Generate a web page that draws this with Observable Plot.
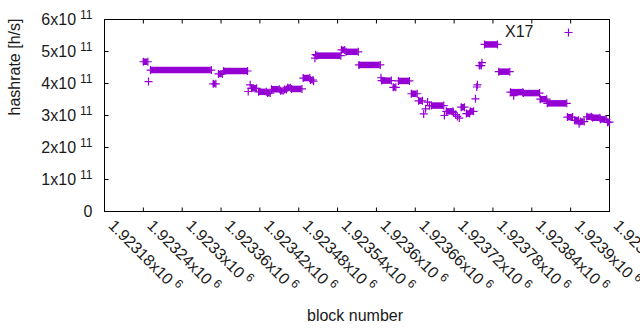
<!DOCTYPE html>
<html>
<head>
<meta charset="utf-8">
<script src="https://cdn.jsdelivr.net/npm/d3@7"></script>
<script src="https://cdn.jsdelivr.net/npm/@observablehq/plot@0.6"></script>
<style>
  html, body { margin: 0; padding: 0; background: #fff; }
  #chart { width: 640px; height: 330px; }
</style>
</head>
<body>
<div id="chart"></div>
<script>
// ---- data ----
const seriesName = "X17";
const xTitle = "block number";
const yTitle = "hashrate [h/s]";

const xTicks = [1923180, 1923240, 1923300, 1923360, 1923420, 1923480, 1923540,
                1923600, 1923660, 1923720, 1923780, 1923840, 1923900, 1923960];
const xTickMantissa = ["1.92318", "1.92324", "1.9233", "1.92336", "1.92342", "1.92348", "1.92354",
                       "1.9236", "1.92366", "1.92372", "1.92378", "1.92384", "1.9239", "1.92396"];
const xTickExponent = "6";

const yTicks = [0, 1e11, 2e11, 3e11, 4e11, 5e11, 6e11];
const yTickMantissa = ["0", "1", "2", "3", "4", "5", "6"];
const yTickExponent = "11";

// runs of consecutive blocks with the same hashrate (x 1e11 h/s)
const runStart = [1923240, 1923248, 1923251, 1923348, 1923356, 1923364, 1923402, 1923405, 1923407, 1923418,
                  1923432, 1923438, 1923452, 1923458, 1923463, 1923469, 1923487, 1923498, 1923503, 1923505,
                  1923506, 1923508, 1923546, 1923553, 1923573, 1923607, 1923608, 1923626, 1923634, 1923654,
                  1923665, 1923673, 1923676, 1923679, 1923682, 1923685, 1923705, 1923708, 1923719, 1923722,
                  1923725, 1923728, 1923731, 1923739, 1923745, 1923753, 1923755, 1923756, 1923759, 1923763,
                  1923767, 1923789, 1923807, 1923812, 1923827, 1923853, 1923864, 1923895, 1923906, 1923913,
                  1923915, 1923925, 1923934, 1923946, 1923957];
const runEnd   = [1923247, 1923248, 1923345, 1923352, 1923362, 1923401, 1923402, 1923405, 1923415, 1923430,
                  1923436, 1923450, 1923456, 1923461, 1923467, 1923485, 1923497, 1923502, 1923503, 1923505,
                  1923506, 1923545, 1923551, 1923572, 1923606, 1923607, 1923623, 1923630, 1923651, 1923663,
                  1923671, 1923673, 1923676, 1923679, 1923682, 1923704, 1923705, 1923718, 1923719, 1923722,
                  1923725, 1923728, 1923736, 1923744, 1923750, 1923753, 1923755, 1923756, 1923762, 1923763,
                  1923787, 1923806, 1923826, 1923812, 1923852, 1923863, 1923894, 1923903, 1923912, 1923913,
                  1923921, 1923932, 1923945, 1923955, 1923960];
const runRate  = [4.68, 4.06, 4.42, 3.99, 4.30, 4.39, 3.75, 3.96, 3.85, 3.74,
                  3.70, 3.82, 3.77, 3.81, 3.87, 3.83, 4.17, 4.11, 4.07, 4.79,
                  4.90, 4.87, 5.05, 4.99, 4.58, 4.18, 4.09, 3.88, 4.08, 3.68,
                  3.46, 3.05, 3.21, 3.42, 3.31, 3.31, 3.00, 3.13, 3.09, 3.03,
                  2.97, 2.92, 3.26, 3.06, 3.13, 3.52, 3.89, 3.96, 4.56, 4.65,
                  5.22, 4.37, 3.73, 3.62, 3.70, 3.51, 3.38, 2.95, 2.85, 2.74,
                  2.81, 2.96, 2.93, 2.88, 2.79];

// ---- build tables ----
const runs = runStart.map((s, i) => ({start: s, end: runEnd[i], rate: runRate[i] * 1e11}));
const runPoints = runs.flatMap(r => r.start === r.end
  ? [{block: r.start, rate: r.rate}]
  : [{block: r.start, rate: r.rate}, {block: r.end, rate: r.rate}]);

const purple = "#9400d3";
const font = "'Liberation Sans', Arial, Helvetica, sans-serif";

const plusSym = {draw(c) { c.moveTo(-4, 0); c.lineTo(4, 0); c.moveTo(0, -4); c.lineTo(0, 4); }};
const tickUp = {draw(c) { c.moveTo(0, 0); c.lineTo(0, -4); }};
const tickDown = {draw(c) { c.moveTo(0, 0); c.lineTo(0, 4); }};
const tickRight = {draw(c) { c.moveTo(0, 0); c.lineTo(4, 0); }};
const tickLeft = {draw(c) { c.moveTo(0, 0); c.lineTo(-4, 0); }};

const xLabel = (d, i) => `${xTickMantissa[i]}x10^${xTickExponent}`;
const yLabel = (d, i) => i === 0 ? yTickMantissa[i] : `${yTickMantissa[i]}x10^${yTickExponent}`;

const chart = Plot.plot({
  width: 640,
  height: 330,
  marginLeft: 104,
  marginRight: 31,
  marginTop: 19,
  marginBottom: 119,
  x: {domain: [xTicks[0], xTicks[xTicks.length - 1]], axis: null},
  y: {domain: [yTicks[0], yTicks[yTicks.length - 1]], axis: null},
  style: {fontFamily: font, fontSize: "16px", background: "white", color: "black"},
  marks: [
    // inward ticks on all four sides
    Plot.dot(xTicks, {x: d => d, frameAnchor: "bottom", symbol: tickUp, stroke: "black", fill: "none", strokeWidth: 1}),
    Plot.dot(xTicks, {x: d => d, frameAnchor: "top", symbol: tickDown, stroke: "black", fill: "none", strokeWidth: 1}),
    Plot.dot(yTicks, {y: d => d, frameAnchor: "left", symbol: tickRight, stroke: "black", fill: "none", strokeWidth: 1}),
    Plot.dot(yTicks, {y: d => d, frameAnchor: "right", symbol: tickLeft, stroke: "black", fill: "none", strokeWidth: 1}),
    Plot.frame({stroke: "black", strokeWidth: 1}),
    // tick labels
    Plot.text(yTicks, {y: d => d, frameAnchor: "left", dx: -12, textAnchor: "end", lineAnchor: "middle", text: yLabel, fontSize: 16, fill: "#1a1a1a"}),
    Plot.text(xTicks, {x: d => d, frameAnchor: "bottom", dx: 3, dy: 15, rotate: 45, textAnchor: "start", lineAnchor: "bottom", text: xLabel, fontSize: 16, fill: "#1a1a1a"}),
    // axis titles
    Plot.text([xTitle], {frameAnchor: "bottom", dx: -2, dy: 104, lineAnchor: "middle", text: d => d, fontSize: 16, fill: "#1a1a1a"}),
    Plot.text([yTitle], {frameAnchor: "left", dx: -89.4, rotate: -90, lineAnchor: "middle", text: d => d, fontSize: 16, fill: "#1a1a1a"}),
    // data
    Plot.ruleY(runs, {x1: "start", x2: "end", y: "rate", stroke: purple, strokeWidth: 6.5}),
    Plot.dot(runPoints, {x: "block", y: "rate", symbol: plusSym, stroke: purple, fill: "none", strokeWidth: 1.2}),
    // key
    Plot.text([seriesName], {frameAnchor: "top-right", dx: -76, dy: 12, textAnchor: "end", lineAnchor: "middle", text: d => d, fontSize: 16, fill: "#1a1a1a"}),
    Plot.dot([seriesName], {frameAnchor: "top-right", dx: -41, dy: 13, symbol: plusSym, stroke: purple, fill: "none", strokeWidth: 1.2})
  ]
});

// superscript exponents
d3.select(chart).selectAll("text").each(function () {
  const t = this.textContent;
  if (t.includes("^")) {
    const [a, b] = t.split("^");
    const sel = d3.select(this);
    sel.text(a);
    sel.append("tspan").attr("dx", 4).attr("dy", -6).attr("font-size", 12).text(b);
  }
});

document.getElementById("chart").appendChild(chart);
</script>
</body>
</html>
